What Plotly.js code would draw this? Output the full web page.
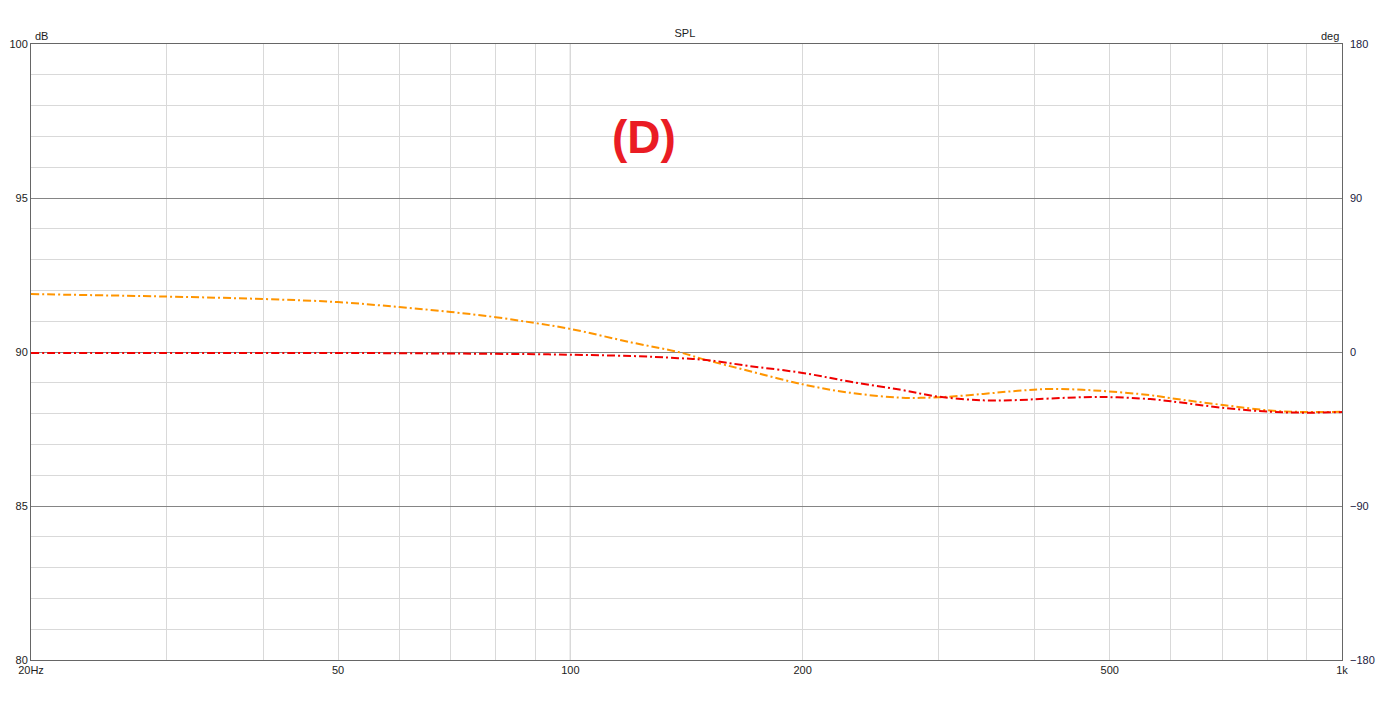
<!DOCTYPE html>
<html>
<head>
<meta charset="utf-8">
<script src="https://cdn.plot.ly/plotly-3.0.1.min.js"></script>
<style>
html,body{margin:0;padding:0;background:#fff;}
#chart{width:1377px;height:713px;}
</style>
</head>
<body>
<div id="chart"></div>
<script>
// Frequencies (Hz)
var freqs = [20, 30, 40, 50, 60, 70, 80, 90, 100, 120, 138, 150, 170, 200, 230, 267, 300, 343, 380, 418, 486, 564, 600, 705, 807, 900, 1000];
// Orange dash-dot curve (dB)
var orangeDb = [91.88, 91.80, 91.72, 91.62, 91.46, 91.30, 91.13, 90.94, 90.75, 90.31, 90.00, 89.74, 89.39, 88.95, 88.68, 88.52, 88.53, 88.64, 88.74, 88.80, 88.74, 88.60, 88.50, 88.27, 88.10, 88.05, 88.06];
// Red dash-dot curve (dB)
var redDb = [89.97, 89.97, 89.97, 89.97, 89.96, 89.95, 89.94, 89.93, 89.91, 89.87, 89.80, 89.74, 89.55, 89.32, 89.04, 88.78, 88.55, 88.43, 88.44, 88.49, 88.54, 88.47, 88.40, 88.18, 88.06, 88.03, 88.05];

var xTickVals = [20, 50, 100, 200, 500, 1000];
var xTickText = ['20Hz', '50', '100', '200', '500', '1k'];
var xMinorVals = [30, 40, 60, 70, 80, 90, 300, 400, 600, 700, 800, 900];
var yTickVals = [80, 85, 90, 95, 100];
var y2TickVals = [-180, -90, 0, 90, 180];

var font = {family: 'Arial, "Liberation Sans", sans-serif', size: 11, color: '#1c1c1c'};
var dashPat = '8px,3px,2px,3px';

var traces = [
  {x: freqs, y: orangeDb, type: 'scatter', mode: 'lines',
   line: {color: '#ff9500', width: 2, dash: dashPat, shape: 'spline'}, hoverinfo: 'skip'},
  {x: freqs, y: redDb, type: 'scatter', mode: 'lines',
   line: {color: '#f00000', width: 2, dash: dashPat, shape: 'spline'}, hoverinfo: 'skip'},
  {x: [20], y: [0], yaxis: 'y2', type: 'scatter', mode: 'none', hoverinfo: 'skip', showlegend: false}
];

var layout = {
  width: 1377, height: 713,
  margin: {l: 31, r: 35, t: 44, b: 53, pad: 0},
  paper_bgcolor: '#ffffff', plot_bgcolor: '#ffffff',
  showlegend: false,
  font: font,
  title: {text: 'SPL', x: 0.4988, xref: 'paper', xanchor: 'center', y: 1 - 33/713, yref: 'container', yanchor: 'middle',
          font: {family: font.family, size: 11, color: '#1c1c1c'}},
  xaxis: {
    type: 'log', range: [Math.log10(20), Math.log10(1000)],
    tickmode: 'array', tickvals: xTickVals, ticktext: xTickText,
    ticks: '', ticklen: 0, tickfont: font,
    showgrid: true, gridcolor: '#d9d9d9', gridwidth: 1,
    minor: {tickmode: 'array', tickvals: xMinorVals, showgrid: true, gridcolor: '#d9d9d9', gridwidth: 1, ticks: ''},
    showline: true, linecolor: '#666666', linewidth: 1, mirror: true,
    zeroline: false, fixedrange: true
  },
  yaxis: {
    range: [80, 100], tickmode: 'array', tickvals: yTickVals,
    ticks: '', ticklen: 0, tickfont: font,
    showgrid: true, gridcolor: '#858585', gridwidth: 1,
    minor: {dtick: 1, showgrid: true, gridcolor: '#d9d9d9', gridwidth: 1, ticks: ''},
    showline: true, linecolor: '#666666', linewidth: 1, mirror: true,
    zeroline: false, fixedrange: true
  },
  yaxis2: {
    overlaying: 'y', side: 'right', range: [-180, 180],
    tickmode: 'array', tickvals: y2TickVals,
    ticks: '', ticklen: 0, ticklabelstandoff: 7,
    tickfont: {family: font.family, size: 11, color: '#1a1a40'},
    showgrid: false, zeroline: false, showline: false, fixedrange: true
  },
  shapes: [
    {type: 'line', xref: 'x', yref: 'paper', x0: 100, x1: 100, y0: 0, y1: 1,
     line: {color: '#858585', width: 1}, layer: 'below'}
  ],
  annotations: [
    {text: 'dB', xref: 'paper', yref: 'paper', x: 0, y: 1, xanchor: 'left', yanchor: 'bottom',
     xshift: 2, yshift: 0, showarrow: false, font: {family: font.family, size: 11, color: '#1c1c1c'}},
    {text: 'deg', xref: 'paper', yref: 'paper', x: 1, y: 1, xanchor: 'right', yanchor: 'bottom',
     xshift: -1, yshift: 0, showarrow: false, font: {family: font.family, size: 11, color: '#1c1c1c'}},
    {text: '<b>(D)</b>', xref: 'paper', yref: 'paper', x: (643.5 - 31) / 1311, y: 1 - (137 - 44) / 616,
     xanchor: 'center', yanchor: 'middle', showarrow: false,
     font: {family: 'Arial, "Liberation Sans", sans-serif', size: 46, color: '#ea1c24'}}
  ]
};

Plotly.newPlot('chart', traces, layout, {staticPlot: true, displayModeBar: false});
</script>
</body>
</html>
